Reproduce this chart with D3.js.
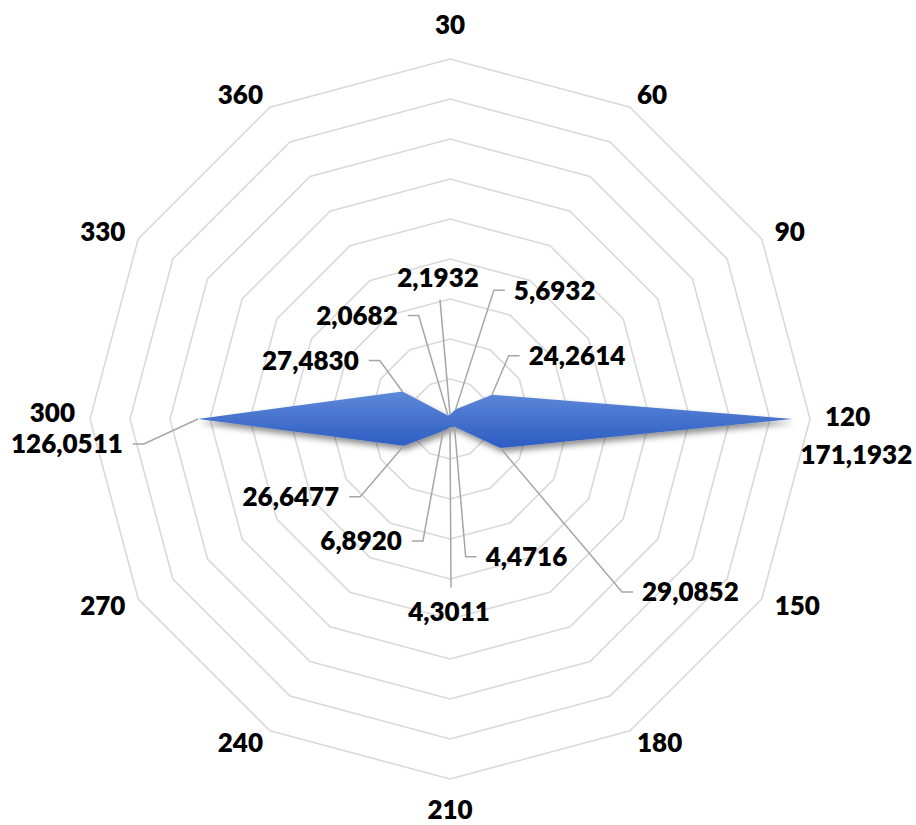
<!DOCTYPE html>
<html>
<head>
<meta charset="utf-8">
<script src="https://cdn.jsdelivr.net/npm/d3@7"></script>
<style>
  html, body { margin: 0; padding: 0; background: #fff; }
  svg text { font-family: Lato, "Open Sans", "Liberation Sans", sans-serif; font-weight: 800; fill: #000; }
</style>
</head>
<body>
<svg id="chart" width="916" height="825"></svg>
<script>
// Axis categories, clockwise from the top
const categories = ["30", "60", "90", "120", "150", "180", "210", "240", "270", "300", "330", "360"];
// Series values, one per category
const values = [2.1932, 5.6932, 24.2614, 171.1932, 29.0852, 4.4716, 4.3011, 6.8920, 26.6477, 126.0511, 27.4830, 2.0682];
// Radial gridline ticks
const ringTicks = [20, 40, 60, 80, 100, 120, 140, 160, 180];
// Data label placement, pixel offsets from each point
const labelOffsets = [[-12, -137], [99, -119], [85, -39], [64, 36], [190, 144], [72, 130],
                      [-1, 184], [-82, 110], [-113, 51], [-131, 25], [-92, -31], [-91, -100]];

const W = 916, H = 825;
const cx = 450, cy = 419, R = 360;
const fontSize = 26;

const svg = d3.select("#chart");
const defs = svg.append("defs");

const grad = defs.append("linearGradient")
  .attr("id", "fillGrad").attr("x1", 0).attr("y1", 0).attr("x2", 0).attr("y2", 1);
grad.append("stop").attr("offset", "0%").attr("stop-color", "#5e89d8");
grad.append("stop").attr("offset", "100%").attr("stop-color", "#2c5bc2");

const shadow = defs.append("filter").attr("id", "shadow")
  .attr("x", "-10%").attr("y", "-30%").attr("width", "120%").attr("height", "170%");
shadow.append("feDropShadow").attr("dx", 2).attr("dy", 4).attr("stdDeviation", 3)
  .attr("flood-color", "#000").attr("flood-opacity", 0.45);

const g = svg.append("g").attr("transform", `translate(${cx},${cy})`);

const r = d3.scaleLinear().domain([0, 180]).range([0, R]);
const angle = d3.scaleLinear().domain([0, categories.length]).range([0, 2 * Math.PI]);

const radial = d3.lineRadial()
  .angle((d, i) => angle(i))
  .radius(d => r(d))
  .curve(d3.curveLinearClosed);

// Gridline rings
g.append("g").selectAll("path")
  .data(ringTicks)
  .join("path")
  .attr("d", t => radial(categories.map(() => t)))
  .attr("fill", "none")
  .attr("stroke", "#d9d9d9")
  .attr("stroke-width", 1.6);

// Series area
g.append("path")
  .attr("d", radial(values))
  .attr("fill", "url(#fillGrad)")
  .attr("filter", "url(#shadow)");

const pointXY = (v, i) => [r(v) * Math.sin(angle(i)), -r(v) * Math.cos(angle(i))];

// Category labels around the outer ring
const catG = g.append("g");
categories.forEach((c, i) => {
  const a = angle(i);
  const s = Math.sin(a), co = Math.cos(a);
  const vx = R * s, vy = -R * co;
  const t = catG.append("text").text(c).attr("font-size", fontSize).attr("dy", "0.36em");
  if (Math.abs(s) < 0.01) {
    t.attr("x", vx).attr("y", vy + (co > 0 ? -34.5 : 30.5)).attr("text-anchor", "middle");
  } else {
    const gap = 16 * Math.abs(s) - 1;
    t.attr("x", vx + Math.sign(s) * gap)
     .attr("y", vy - co * 14 - (Math.abs(co) < 0.01 ? (s < 0 ? 6 : 2) : 0))
     .attr("text-anchor", s > 0 ? "start" : "end");
  }
});

// Data labels with leader lines
const fmt = d3.formatLocale({ decimal: ",", thousands: ".", grouping: [3], currency: ["", ""] }).format(".4f");
const leaderG = g.append("g");
const labelG = g.append("g");
values.forEach((v, i) => {
  const [px, py] = pointXY(v, i);
  const lx = px + labelOffsets[i][0], ly = py + labelOffsets[i][1];
  const t = labelG.append("text").text(fmt(v))
    .attr("x", lx).attr("y", ly).attr("dy", "0.36em")
    .attr("text-anchor", "middle").attr("font-size", fontSize);
  const w = t.node().getComputedTextLength();
  const hh = 18;
  const left = lx - w / 2, right = lx + w / 2;
  // distance from point to label box
  const ddx = Math.max(left - px, 0, px - right);
  const ddy = Math.max(ly - hh - py, 0, py - (ly + hh));
  if (Math.hypot(ddx, ddy) < 25) return;
  let pts;
  if (left > px) {
    pts = [[px, py], [left - 20, ly], [left - 9, ly]];
  } else if (right < px) {
    pts = [[px, py], [right + 21, ly], [right + 10, ly]];
  } else {
    pts = [[px, py], [lx + 2, ly < py ? ly + 22 : ly - 24]];
  }
  leaderG.append("path")
    .attr("d", d3.line()(pts))
    .attr("fill", "none")
    .attr("stroke", "#a6a6a6")
    .attr("stroke-width", 1.5);
});
</script>
</body>
</html>
